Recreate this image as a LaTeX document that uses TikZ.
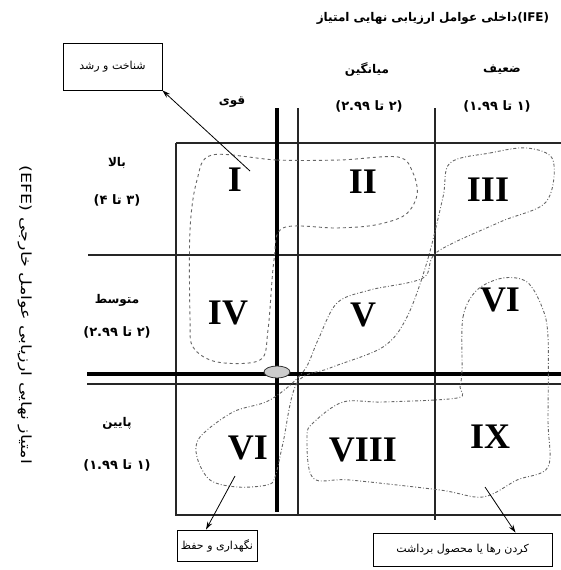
\documentclass[tikz,border=0pt]{standalone}
\usepackage{fontspec}
\setmainfont{Liberation Serif}
\newfontfamily\arabicfont[Script=Arabic]{DejaVu Sans}
\TeXXeTstate=1
\usetikzlibrary{arrows.meta}

\begin{document}
\begin{tikzpicture}[x=1pt,y=-1pt,
  grid line/.style={line width=1.1pt,black!85},
  heavy line/.style={line width=4pt,black},
  zone/.style={line width=0.9pt,black!60,dashed},
  zone dots/.style={line width=0.9pt,black!60,dash dot},
  roman/.style={font=\fontsize{36}{36}\selectfont\bfseries},
  fahead/.style={font=\arabicfont\bfseries\fontsize{12}{14}\selectfont},
  farange/.style={font=\arabicfont\bfseries\fontsize{13}{15}\selectfont},
  fabox/.style={draw,line width=0.8pt,font=\arabicfont\fontsize{11}{13}\selectfont,inner sep=0pt},
  pointer/.style={line width=0.8pt,-{Stealth[length=8pt,width=5pt]}}]
\useasboundingbox (0,0) rectangle (561,570);
\fill[white] (0,0) rectangle (561,570);
\draw[grid line] (176,143) -- (561,143);
\draw[grid line] (176,143) -- (176,515) -- (561,515);
\draw[grid line] (298,108) -- (298,515);
\draw[grid line] (435,108) -- (435,520);
\draw[grid line] (88,255) -- (561,255);
\draw[grid line] (87,384) -- (561,384);
\draw[heavy line] (87,374) -- (561,374);
\draw[heavy line] (277,108) -- (277,512);
\filldraw[fill=black!20,draw=black!80,line width=0.8pt] (277,372) ellipse (13 and 6);
\draw[zone] plot[smooth cycle,tension=0.55] coordinates {(212,155) (277,160) (340,160) (398,157) (413,173) (417,195) (405,215) (375,225) (337,228) (283,228) (274,260) (268,330) (260,360) (217,362) (193,347) (190,317) (190,230) (197,180)};
\draw[zone dots] plot[smooth cycle,tension=0.55] coordinates {(450,163) (490,153) (527,148) (553,160) (546,202) (500,222) (437,252) (423,278) (370,290) (337,303) (318,340) (303,372) (270,400) (233,412) (200,437) (197,457) (210,480) (237,487) (267,485) (275,477) (283,443) (297,383) (330,368) (383,347) (407,317) (427,262) (443,197)};
\draw[zone dots] plot[smooth cycle,tension=0.55] coordinates {(462,370) (463,317) (477,290) (503,278) (527,282) (542,307) (548,337) (548,420) (548,467) (517,480) (483,497) (440,490) (350,480) (313,478) (307,437) (313,423) (343,402) (383,402) (457,398) (460,387)};
\node[roman] (c1) at (235,180) {I};
\node[roman] (c2) at (363,182) {II};
\node[roman] (c3) at (488,190) {III};
\node[roman] (c4) at (228,313) {IV};
\node[roman] (c5) at (363,315) {V};
\node[roman] (c6) at (500,300) {VI};
\node[roman] (c7) at (248,448) {VI};
\node[roman] (c8) at (363,450) {VIII};
\node[roman] (c9) at (490,437) {IX};
\node[font=\arabicfont\bfseries\fontsize{12}{14}\selectfont] (title) at (433,18) {\beginR\beginL(IFE)\endL{}داخلی عوامل ارزیابی نهایی امتیاز\endR};
\node[font=\arabicfont\fontsize{14}{16}\selectfont,rotate=-90] (efe) at (25,315) {\scalebox{1.25}[1]{\beginR امتیاز نهایی ارزیابی عوامل خارجی \beginL(EFE)\endL\endR}};
\node[fahead] (strong) at (232,102) {\beginR قوی\endR};
\node[fahead] (average) at (367,70) {\beginR میانگین\endR};
\node[farange] (averagerange) at (369,106) {\beginR(۲ تا ۲.۹۹)\endR};
\node[fahead] (weak) at (502,70) {\beginR ضعیف\endR};
\node[farange] (weakrange) at (497,106) {\beginR(۱ تا ۱.۹۹)\endR};
\node[fahead] (high) at (117,163) {\beginR بالا\endR};
\node[farange] (highrange) at (117,200) {\beginR(۳ تا ۴)\endR};
\node[fahead] (mid) at (117,300) {\beginR متوسط\endR};
\node[farange] (midrange) at (117,332) {\beginR(۲ تا ۲.۹۹)\endR};
\node[fahead] (low) at (117,423) {\beginR پایین\endR};
\node[farange] (lowrange) at (117,465) {\beginR(۱ تا ۱.۹۹)\endR};
\node[fabox,minimum width=99pt,minimum height=47pt] (growbox) at (112.5,66.5) {\beginR شناخت و رشد\endR};
\node[fabox,minimum width=80pt,minimum height=31pt] (keepbox) at (217,545.5) {\beginR نگهداری و حفظ\endR};
\node[fabox,minimum width=179pt,minimum height=33pt] (harvestbox) at (462.5,549.5) {\beginR کردن رها یا محصول برداشت\endR};
\coordinate (growfrom) at (250,171);
\coordinate (keepfrom) at (235,476);
\coordinate (harvestfrom) at (485,487);
\draw[pointer] (growfrom) -- (growbox.south east);
\draw[pointer] (keepfrom) -- ([xshift=-11pt]keepbox.north);
\draw[pointer] (harvestfrom) -- ([xshift=53pt]harvestbox.north);
\end{tikzpicture}
\end{document}
